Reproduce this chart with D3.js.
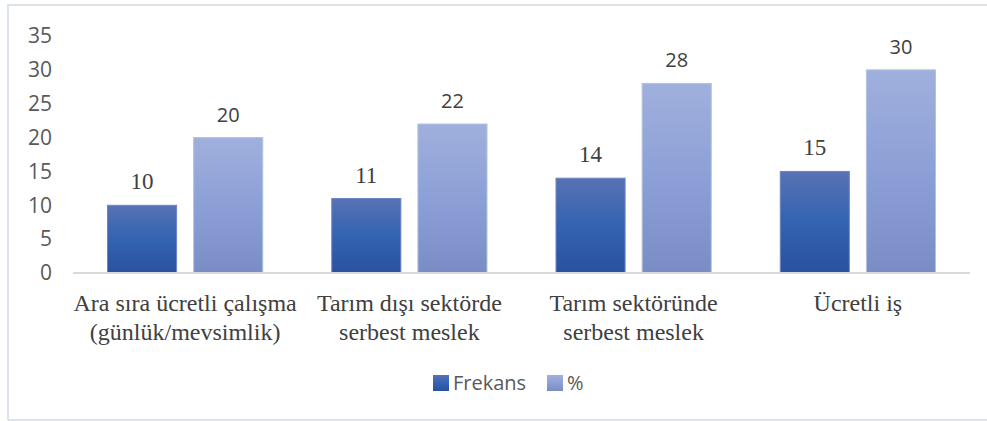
<!DOCTYPE html>
<html>
<head>
<meta charset="utf-8">
<script src="https://cdn.jsdelivr.net/npm/d3@7"></script>
<style>
  body { margin: 0; background: #fff; }
  svg { display: block; }
  .serif { font-family: 'Liberation Serif', 'Times New Roman', 'DejaVu Serif', serif; }
  .sans { font-family: 'Open Sans', 'Liberation Sans', sans-serif; }
</style>
</head>
<body>
<svg id="chart"></svg>
<script>
// data
const categories = [
  ["Ara sıra ücretli çalışma", "(günlük/mevsimlik)"],
  ["Tarım dışı sektörde", "serbest meslek"],
  ["Tarım sektöründe", "serbest meslek"],
  ["Ücretli iş"]
];
const seriesNames = ["Frekans", "%"];
const frekans = [10, 11, 14, 15];
const yuzde = [20, 22, 28, 30];
const yTicks = [0, 5, 10, 15, 20, 25, 30, 35];

const W = 987, H = 421;
const margin = {top: 36, right: 17, bottom: 148, left: 73};
const width = W - margin.left - margin.right;
const height = H - margin.top - margin.bottom;

const svg = d3.select("#chart").attr("width", W).attr("height", H);

// gradients
const defs = svg.append("defs");
function grad(id, stops) {
  const g = defs.append("linearGradient").attr("id", id)
    .attr("x1", 0).attr("y1", 0).attr("x2", 0).attr("y2", 1);
  stops.forEach(s => g.append("stop").attr("offset", s[0]).attr("stop-color", s[1]));
}
grad("g0", [[0, "#5872b4"], [0.5, "#3363b1"], [1, "#2a51a0"]]);
grad("g1", [[0, "#a0b0dd"], [0.5, "#8ca0d7"], [1, "#7a8cc4"]]);

// outer frame
svg.append("path")
  .attr("d", "M8,420 L8,5 L990,5 M8,420 L990,420")
  .attr("fill", "none").attr("stroke", "#dde3ea").attr("stroke-width", 2);

const g = svg.append("g")
  .attr("transform", "translate(" + margin.left + "," + margin.top + ")");

const x0 = d3.scaleBand().domain(d3.range(categories.length)).range([0, width]);
const x1 = d3.scaleBand().domain(seriesNames)
  .range([34.5, x0.bandwidth() - 34.5]).paddingInner(0.198);
const y = d3.scaleLinear().domain([0, 35]).range([height, 0]);

// y axis labels
g.selectAll(".ytick").data(yTicks).enter().append("text")
  .attr("class", "sans")
  .attr("x", -21).attr("y", d => y(d)).attr("dy", "0.35em")
  .attr("text-anchor", "end")
  .attr("font-size", 21)
  .attr("fill", "#595959")
  .text(d => d);

const rows = categories.map((c, i) => ({i: i, vals: [frekans[i], yuzde[i]]}));

const grp = g.selectAll(".cat").data(rows).enter().append("g")
  .attr("transform", d => "translate(" + x0(d.i) + ",0)");

grp.selectAll("rect").data(d => d.vals.map((v, k) => ({k: k, v: v}))).enter()
  .append("rect")
  .attr("x", d => x1(seriesNames[d.k]))
  .attr("y", d => y(d.v))
  .attr("width", x1.bandwidth())
  .attr("height", d => height - y(d.v))
  .attr("fill", d => "url(#g" + d.k + ")")
  .attr("stroke", d => d.k === 0 ? "#6d86c4" : "#b2c0e6")
  .attr("stroke-width", 1);

// value labels
grp.selectAll(".val").data(d => d.vals.map((v, k) => ({k: k, v: v}))).enter()
  .append("text")
  .attr("class", d => d.k === 0 ? "serif" : "sans")
  .attr("x", d => x1(seriesNames[d.k]) + x1.bandwidth() / 2)
  .attr("y", d => y(d.v) - 16)
  .attr("text-anchor", "middle")
  .attr("font-size", d => d.k === 0 ? 23 : 20)
  .attr("fill", "#404040")
  .text(d => d.v);

// baseline
g.append("line")
  .attr("x1", 0).attr("x2", width).attr("y1", height).attr("y2", height)
  .attr("stroke", "#d9d9d9").attr("stroke-width", 2);

// category labels
grp.each(function(d) {
  const t = d3.select(this).append("text")
    .attr("class", "serif")
    .attr("x", x0.bandwidth() / 2)
    .attr("text-anchor", "middle")
    .attr("font-size", 24)
    .attr("fill", "#404040");
  categories[d.i].forEach((line, j) => {
    t.append("tspan").attr("x", x0.bandwidth() / 2)
      .attr("y", height + 38 + j * 29).text(line);
  });
});

// legend
const legend = svg.append("g").attr("transform", "translate(433,383)");
const legX = [0, 114];
seriesNames.forEach((s, k) => {
  const lg = legend.append("g").attr("transform", "translate(" + legX[k] + ",0)");
  lg.append("rect").attr("x", 0).attr("y", -8).attr("width", 16).attr("height", 16)
    .attr("fill", "url(#g" + k + ")");
  lg.append("text").attr("class", "sans").attr("x", 20).attr("y", 0).attr("dy", "0.35em")
    .attr("font-size", 20)
    .attr("fill", "#595959").text(s);
});
</script>
</body>
</html>
